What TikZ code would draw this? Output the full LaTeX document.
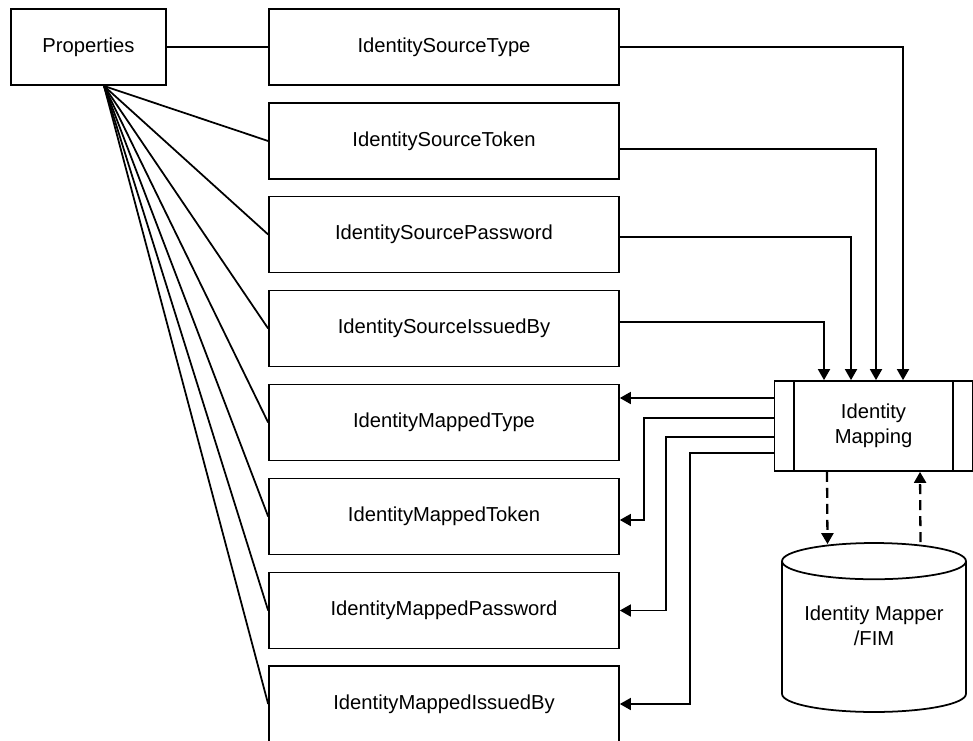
\documentclass[tikz,border=0pt]{standalone}
\usepackage{fontspec}
\setmainfont{Liberation Sans}
\usetikzlibrary{arrows.meta,shapes.geometric,calc}

\begin{document}
\begin{tikzpicture}[x=0.02cm,y=-0.02cm,
    every node/.style={font=\fontsize{11.5}{14}\selectfont},
    box/.style={draw,line width=1pt,minimum width=7cm,minimum height=1.52cm,inner sep=0pt},
    link/.style={line width=1pt},
    arr/.style={line width=1pt,-{Triangle[length=0.22cm,width=0.24cm]}},
    dasharr/.style={arr,line width=1.3pt,dash pattern=on 0.2cm off 0.12cm}]
    \useasboundingbox (0,0) rectangle (973,740);

    \node[box,minimum width=3.1cm] (props) at (88.5,47) {Properties};
    \node[box] (stype) at (444,47) {IdentitySourceType};
    \node[box] (stoken) at (444,141) {IdentitySourceToken};
    \node[box] (spass) at (444,234.5) {IdentitySourcePassword};
    \node[box] (sissued) at (444,328.5) {IdentitySourceIssuedBy};
    \node[box] (mtype) at (444,422.5) {IdentityMappedType};
    \node[box] (mtoken) at (444,516.5) {IdentityMappedToken};
    \node[box] (mpass) at (444,610.5) {IdentityMappedPassword};
    \node[box] (missued) at (444,704) {IdentityMappedIssuedBy};
    \node[box,minimum width=3.96cm,minimum height=1.8cm,align=center] (map) at (873.5,426) {Identity\\Mapping};
    \draw[link] ($(map.north west)+(20,0)$) -- ($(map.south west)+(20,0)$);
    \draw[link] ($(map.north east)+(-20,0)$) -- ($(map.south east)+(-20,0)$);
    \node[draw,line width=1pt,cylinder,shape border rotate=90,aspect=0.24,minimum width=3.68cm,minimum height=3.38cm,anchor=shape center] (fim) at (874,627.5)
        {\raisebox{0.24cm}[\height][\depth]{\begin{tabular}{@{}c@{}}Identity Mapper\\/FIM\end{tabular}}};

    \coordinate (fan) at (104,86);
    \draw[link] (props) to (stype);
    \foreach \n in {stoken,spass,sissued,mtype,mtoken,mpass,missued} \draw[link] (fan) to (\n.west);

    % into the mapping
    \draw[arr] (stype.east) -| ($(map.north)+(29.5,0)$);
    \draw[arr] ($(stoken.east)+(0,8)$) -| ($(map.north)+(2.5,0)$);
    \draw[arr] ($(spass.east)+(0,2.5)$) -| ($(map.north)+(-22.5,0)$);
    \draw[arr] ($(sissued.east)+(0,-6.5)$) -| ($(map.north)+(-49.5,0)$);

    % out of the mapping
    \draw[arr] ($(map.west)+(0,-28)$) -- ($(mtype.east)+(0,-24.5)$);
    \draw[arr] ($(map.west)+(0,-8)$) -- ++(-130,0) |- ($(mtoken.east)+(0,3.5)$);
    \draw[arr] ($(map.west)+(0,11)$) -- ++(-108,0) |- (mpass.east);
    \draw[arr] ($(map.west)+(0,27)$) -- ++(-84,0) |- (missued.east);

    \draw[dasharr] ($(map.south)+(-46.5,0)$) -- ($(fim.north)+(-46.5,2)$);
    \draw[dasharr] ($(fim.north)+(46.5,0)$) -- ($(map.south)+(46.5,0)$);
\end{tikzpicture}
\end{document}
